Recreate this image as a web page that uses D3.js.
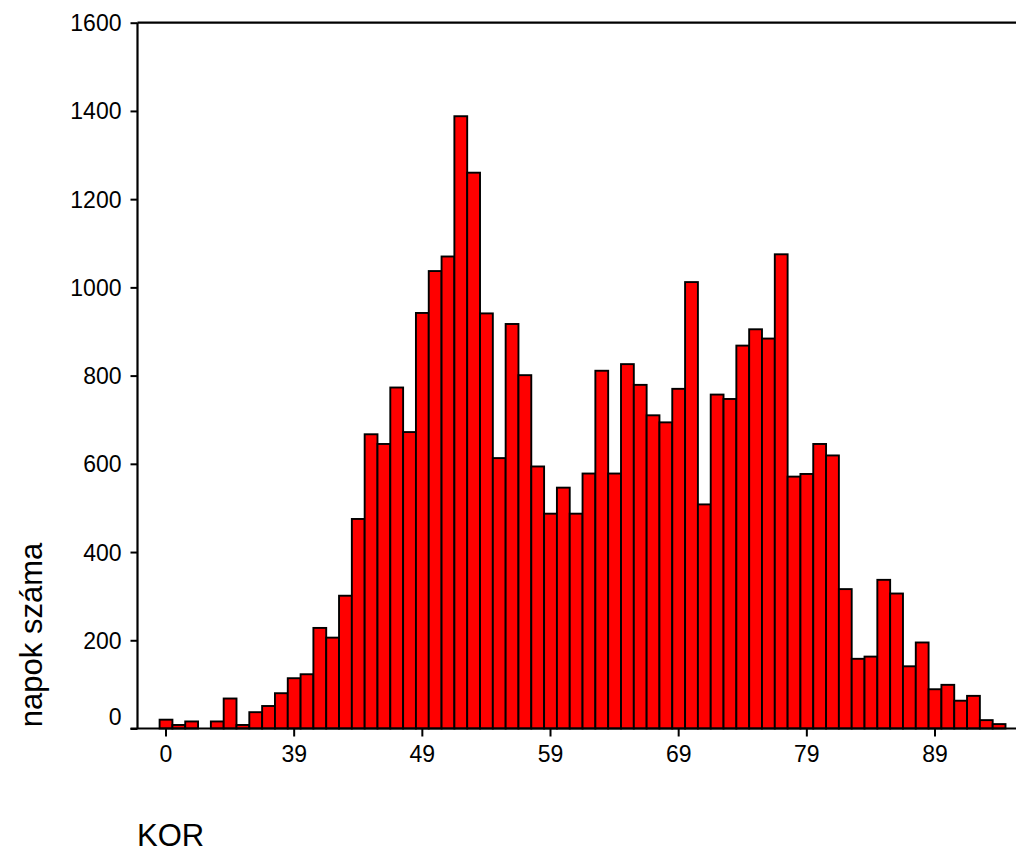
<!DOCTYPE html>
<html>
<head>
<meta charset="utf-8">
<script src="https://cdn.jsdelivr.net/npm/d3@7"></script>
<style>
  html, body { margin: 0; padding: 0; background: #fff; }
  svg { display: block; }
  text { font-family: "Liberation Sans", Arial, Helvetica, sans-serif; fill: #000; }
</style>
</head>
<body>
<svg id="chart" width="1016" height="852"></svg>
<script>
// Age categories (KOR) and the number of days per age
const categories = ["0", "30", "31", "32", "33", "34", "35", "36", "37", "38",
  "39", "40", "41", "42", "43", "44", "45", "46", "47", "48",
  "49", "50", "51", "52", "53", "54", "55", "56", "57", "58",
  "59", "60", "61", "62", "63", "64", "65", "66", "67", "68",
  "69", "70", "71", "72", "73", "74", "75", "76", "77", "78",
  "79", "80", "81", "82", "83", "84", "85", "86", "87", "88",
  "89", "90", "91", "92", "93", "94"];

const counts = [20, 8, 16, 0, 16, 68, 8, 37, 51, 80,
  114, 123, 228, 206, 301, 475, 667, 645, 773, 672,
  942, 1037, 1070, 1388, 1260, 941, 613, 917, 801, 594,
  487, 546, 487, 578, 811, 578, 826, 779, 710, 694,
  770, 1012, 508, 757, 747, 868, 905, 884, 1075, 571,
  577, 645, 619, 316, 158, 163, 337, 306, 141, 195,
  89, 99, 63, 74, 19, 10];

const xTickLabels = ["0", "39", "49", "59", "69", "79", "89"];
const yTickValues = [0, 200, 400, 600, 800, 1000, 1200, 1400, 1600];

const xTitle = "KOR";
const yTitle = "napok száma";

const svg = d3.select("#chart");

const axisX = 137.5;      // position of the vertical axis
const rightEdge = 1016;

const x = d3.scaleBand()
  .domain(categories)
  .range([159.6, 1005.5])
  .padding(0);

const y = d3.scaleLinear()
  .domain([0, 1600])
  .range([728.5, 22.7]);

// Bars
svg.append("g")
  .selectAll("rect")
  .data(categories.map((c, i) => ({ c, v: counts[i] })))
  .join("rect")
  .attr("x", d => x(d.c))
  .attr("y", d => y(d.v))
  .attr("width", x.bandwidth())
  .attr("height", d => y(0) - y(d.v))
  .attr("fill", "#ff0000")
  .attr("stroke", "#000")
  .attr("stroke-width", 1.9)
  .attr("visibility", d => d.v > 0 ? "visible" : "hidden");

// Y axis ticks and labels
const yAxis = svg.append("g")
  .attr("transform", `translate(${axisX},0)`)
  .call(d3.axisLeft(y).tickValues(yTickValues).tickSize(7).tickPadding(9).tickFormat(d3.format("d")));
yAxis.select(".domain").remove();
yAxis.selectAll(".tick line").attr("stroke", "#000").attr("stroke-width", 2);
yAxis.selectAll(".tick text")
  .style("font-size", "23px")
  .attr("dy", d => d === 0 ? "-0.18em" : "0.35em");

// X axis ticks and labels
const xAxis = svg.append("g")
  .attr("transform", `translate(0,${y(0)})`)
  .call(d3.axisBottom(x).tickValues(xTickLabels).tickSize(8).tickPadding(9));
xAxis.select(".domain").remove();
xAxis.selectAll(".tick line").attr("stroke", "#000").attr("stroke-width", 2);
xAxis.selectAll(".tick text").style("font-size", "23px");

// Frame lines: vertical axis, baseline and top rule
const frame = svg.append("g").attr("stroke", "#000").attr("stroke-width", 2.2);
frame.append("line")
  .attr("x1", axisX).attr("x2", axisX)
  .attr("y1", y(1600)).attr("y2", y(0));
frame.append("line")
  .attr("x1", axisX - 7).attr("x2", rightEdge)
  .attr("y1", y(0)).attr("y2", y(0));
frame.append("line")
  .attr("x1", axisX).attr("x2", rightEdge)
  .attr("y1", y(1600)).attr("y2", y(1600));

// Axis titles
svg.append("text")
  .attr("x", 137)
  .attr("y", 846)
  .style("font-size", "31px")
  .text(xTitle);

svg.append("text")
  .attr("transform", "translate(42,635) rotate(-90)")
  .attr("text-anchor", "middle")
  .style("font-size", "31px")
  .text(yTitle);
</script>
</body>
</html>
